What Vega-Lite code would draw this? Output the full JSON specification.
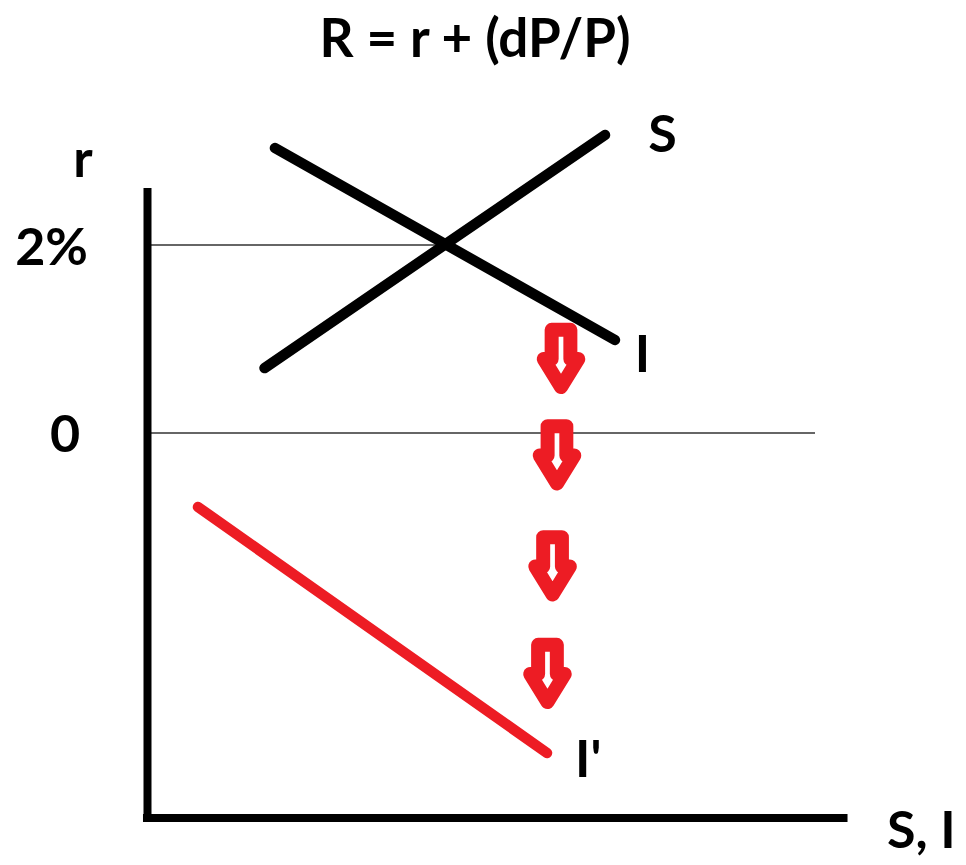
{
  "$schema": "https://vega.github.io/schema/vega-lite/v6.json",
  "width": 966,
  "height": 865,
  "padding": 0,
  "autosize": {"type": "fit", "contains": "padding"},
  "background": "white",
  "config": {"view": {"stroke": null}},
  "datasets": {
    "thin": [
      {"name": "2% level", "x": 0, "y": 2, "x2": 3.165, "y2": 2},
      {"name": "zero level", "x": 0, "y": 0, "x2": 7.101, "y2": 0}
    ],
    "axes": [
      {"name": "r axis", "x": 0, "y": 2.606, "x2": 0, "y2": -4.138},
      {"name": "S,I axis", "x": -0.048, "y": -4.096, "x2": 7.447, "y2": -4.096}
    ],
    "curves": [
      {"name": "S", "x": 1.245, "y": 0.691, "x2": 4.867, "y2": 3.17},
      {"name": "I", "x": 1.356, "y": 3.032, "x2": 4.973, "y2": 0.989}
    ],
    "shifted": [
      {"name": "I'", "x": 0.537, "y": -0.787, "x2": 4.25, "y2": -3.404}
    ],
    "arrows": [
      {"step": 1, "x": 4.399, "y": 0.787},
      {"step": 2, "x": 4.356, "y": -0.239},
      {"step": 3, "x": 4.309, "y": -1.42},
      {"step": 4, "x": 4.255, "y": -2.564}
    ],
    "labelsCenter": [
      {"label": "r", "x": -0.686, "y": 2.723},
      {"label": "2%", "x": -1.021, "y": 1.787},
      {"label": "0", "x": -0.878, "y": -0.202},
      {"label": "S", "x": 5.479, "y": 2.989},
      {"label": "I", "x": 5.266, "y": 0.649}
    ],
    "labelsLeft": [
      {"label": "I'", "x": 4.548, "y": -3.66},
      {"label": "S, I", "x": 7.867, "y": -4.415}
    ],
    "title": [
      {"label": "R = r + (dP/P)", "x": 3.484, "y": 4.0}
    ]
  },
  "encoding": {
    "x": {"field": "x", "type": "quantitative", "axis": null, "scale": {"domain": [-1.5691, 8.7074], "nice": false, "zero": false}},
    "y": {"field": "y", "type": "quantitative", "axis": null, "scale": {"domain": [-4.5957, 4.6064], "nice": false, "zero": false}}
  },
  "layer": [
    {
      "data": {"name": "thin"},
      "mark": {"type": "rule", "strokeWidth": 1.5, "color": "#333333"},
      "encoding": {"x2": {"field": "x2"}, "y2": {"field": "y2"}}
    },
    {
      "data": {"name": "axes"},
      "mark": {"type": "rule", "strokeWidth": 8, "color": "#000000", "strokeCap": "butt"},
      "encoding": {"x2": {"field": "x2"}, "y2": {"field": "y2"}}
    },
    {
      "data": {"name": "curves"},
      "mark": {"type": "rule", "strokeWidth": 10.5, "color": "#000000", "strokeCap": "round"},
      "encoding": {"x2": {"field": "x2"}, "y2": {"field": "y2"}}
    },
    {
      "data": {"name": "shifted"},
      "mark": {"type": "rule", "strokeWidth": 10.5, "color": "#ed1c24", "strokeCap": "round"},
      "encoding": {"x2": {"field": "x2"}, "y2": {"field": "y2"}}
    },
    {
      "data": {"name": "arrows"},
      "mark": {
        "type": "point",
        "shape": "M -0.26 -0.81 L 0.26 -0.81 L 0.26 0 L 0.48 0 L 0 0.78 L -0.48 0 L -0.26 0 Z",
        "size": 5184,
        "filled": true,
        "fill": "white",
        "stroke": "#ed1c24",
        "strokeWidth": 14,
        "strokeJoin": "round",
        "opacity": 1,
        "fillOpacity": 1,
        "strokeOpacity": 1
      }
    },
    {
      "data": {"name": "labelsCenter"},
      "mark": {"type": "text", "font": "Lato", "fontWeight": "bold", "fontSize": 52, "align": "center", "baseline": "alphabetic", "color": "#000000"},
      "encoding": {"text": {"field": "label"}}
    },
    {
      "data": {"name": "labelsLeft"},
      "mark": {"type": "text", "font": "Lato", "fontWeight": "bold", "fontSize": 52, "align": "left", "baseline": "alphabetic", "color": "#000000"},
      "encoding": {"text": {"field": "label"}}
    },
    {
      "data": {"name": "title"},
      "mark": {"type": "text", "font": "Lato", "fontWeight": "bold", "fontSize": 53, "align": "center", "baseline": "alphabetic", "color": "#000000"},
      "encoding": {"text": {"field": "label"}}
    }
  ]
}
